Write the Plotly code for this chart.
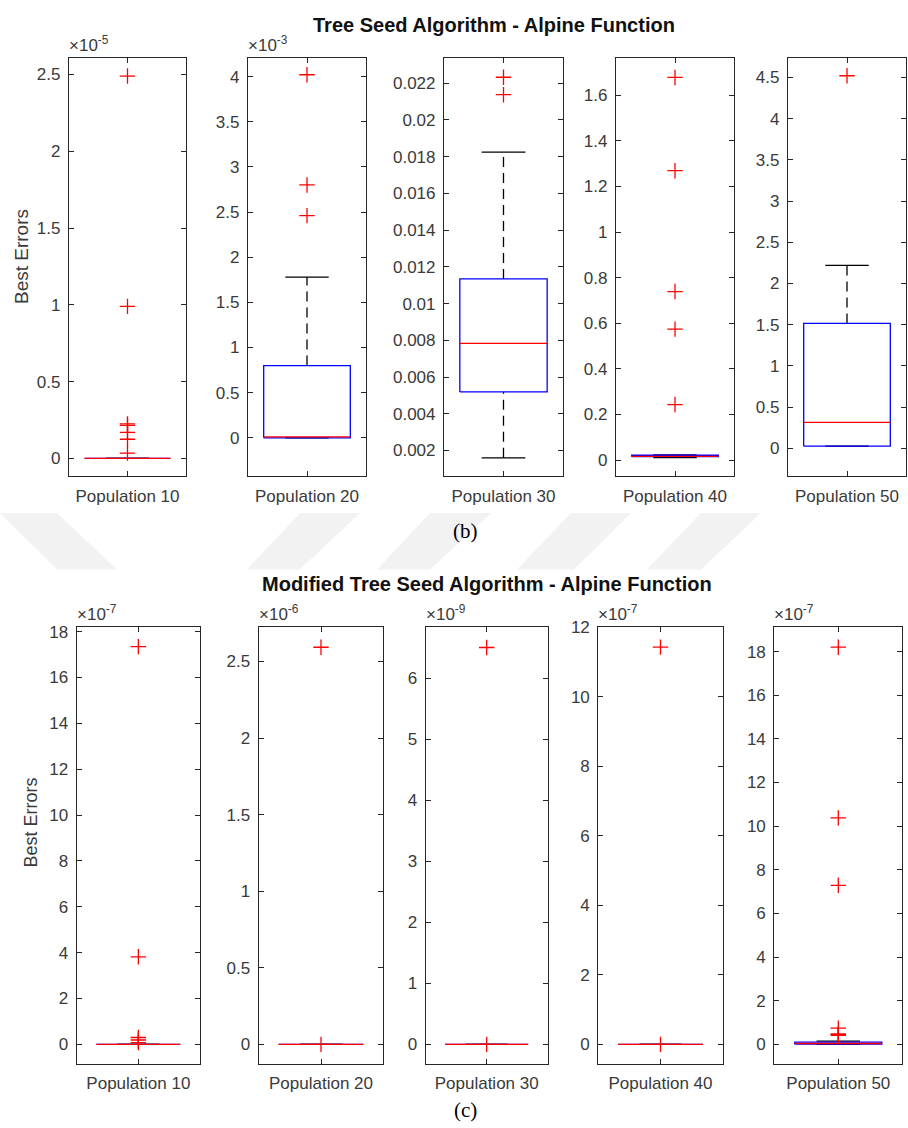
import plotly.graph_objects as go

W, H = 908, 1128

categories = ["Population 10", "Population 20", "Population 30", "Population 40", "Population 50"]

# ---- (b) Tree Seed Algorithm - Alpine Function (values in units of 10^exponent) ----
tsa_exponent = [-5, -3, 0, 0, 0]
tsa_q1 = [0.0, 0.0, 0.00519, 0.015, 0.028]
tsa_median = [0.0, 0.011, 0.00783, 0.016, 0.316]
tsa_q3 = [0.0, 0.80, 0.01134, 0.021, 1.516]
tsa_lower_whisker = [0.0, 0.0, 0.0016, 0.0105, 0.028]
tsa_upper_whisker = [0.0, 1.78, 0.01824, 0.023, 2.22]
tsa_outliers = [
    [2.49, 0.99, 0.225, 0.215, 0.17, 0.125, 0.035],
    [4.02, 2.80, 2.46],
    [0.02232, 0.02137],
    [1.678, 1.269, 0.739, 0.574, 0.2435],
    [4.52],
]

# ---- (c) Modified Tree Seed Algorithm - Alpine Function ----
mtsa_exponent = [-7, -6, -9, -7, -7]
mtsa_q1 = [0.0, 0.0, 0.0, 0.0, 0.01]
mtsa_median = [0.0, 0.0, 0.0, 0.0, 0.04]
mtsa_q3 = [0.0, 0.0, 0.0, 0.0, 0.10]
mtsa_lower_whisker = [0.0, 0.0, 0.0, 0.0, 0.0]
mtsa_upper_whisker = [0.0, 0.0, 0.0, 0.0, 0.15]
mtsa_outliers = [
    [17.35, 3.82, 0.30, 0.19, 0.08],
    [2.593, 0.0],
    [6.50, 0.0],
    [11.43, 0.0],
    [18.2, 10.38, 7.29, 0.745, 0.48, 0.45, 0.42],
]

# ---- layout helpers (pixel boxes) ----
top_boxes = [(69, 186), (248, 366), (444, 563), (616, 734), (788, 906)]
top_y = (49, 471)
top_ranges = [(-0.116, 2.61), (-0.425, 4.21), (0.0006, 0.02339), (-0.071, 1.765), (-0.337, 4.74)]
top_dtick = [0.5, 0.5, 0.002, 0.2, 0.5]

bot_boxes = [(76.7, 200), (258.7, 383.3), (425.7, 547.7), (598.3, 722.7), (774.3, 902.3)]
bot_y = (623.3, 1063.3)
bot_ranges = [(-0.848, 18.19), (-0.127, 2.723), (-0.318, 6.83), (-0.56, 12.0005), (-0.89, 19.11)]
bot_dtick = [2, 0.5, 1, 2, 2]

AX = "#262626"
TXT = "#3a3a3a"
FONT = "Liberation Sans, Arial, sans-serif"

fig = go.Figure()
annotations = []
shapes = []


def px_x(x):
    return x / W


def px_y(y):
    return 1 - y / H


def add_panel(i, xb, yb, rng, dtick, exp, q1, med, q3, lw, uw, outs, half, cap, tickfont):
    xa = "x" if i == 1 else f"x{i}"
    ya = "y" if i == 1 else f"y{i}"
    # whiskers (dashed)
    for y0, y1 in [(q3, uw), (lw, q1)]:
        fig.add_trace(go.Scatter(x=[1, 1], y=[y0, y1], mode="lines",
                                 line=dict(color="black", width=1.3, dash="10px,6px"),
                                 xaxis=xa, yaxis=ya, hoverinfo="skip", showlegend=False))
    # caps
    for yv in [uw, lw]:
        fig.add_trace(go.Scatter(x=[1 - cap, 1 + cap], y=[yv, yv], mode="lines",
                                 line=dict(color="black", width=1.3),
                                 xaxis=xa, yaxis=ya, hoverinfo="skip", showlegend=False))
    # box
    fig.add_trace(go.Scatter(x=[1 - half, 1 + half, 1 + half, 1 - half, 1 - half],
                             y=[q1, q1, q3, q3, q1], mode="lines",
                             line=dict(color="#0000ff", width=1.3),
                             xaxis=xa, yaxis=ya, hoverinfo="skip", showlegend=False))
    # median
    fig.add_trace(go.Scatter(x=[1 - half, 1 + half], y=[med, med], mode="lines",
                             line=dict(color="#ff0000", width=1.3),
                             xaxis=xa, yaxis=ya, hoverinfo="skip", showlegend=False))
    # outliers
    fig.add_trace(go.Scatter(x=[1] * len(outs), y=outs, mode="markers",
                             marker=dict(symbol="cross-thin", size=11,
                                         line=dict(color="#ff0000", width=1.3)),
                             xaxis=xa, yaxis=ya, hoverinfo="skip", showlegend=False))
    axcommon = dict(showline=True, linecolor=AX, linewidth=1.2, mirror="ticks",
                    ticks="inside", ticklen=5, tickcolor=AX, tickwidth=1,
                    showgrid=False, zeroline=False,
                    tickfont=dict(family=FONT, size=tickfont, color=TXT))
    fig.update_layout(**{
        ("xaxis" if i == 1 else f"xaxis{i}"): dict(
            domain=[px_x(xb[0]), px_x(xb[1])], range=[0.5, 1.5],
            tickvals=[1], ticktext=[categories[(i - 1) % 5]], anchor=ya,
            ticklabelstandoff=4, **axcommon),
        ("yaxis" if i == 1 else f"yaxis{i}"): dict(
            domain=[px_y(yb[1]), px_y(yb[0])], range=list(rng),
            tick0=0, dtick=dtick, anchor=xa, ticklabelstandoff=4, **axcommon),
    })
    if exp != 0:
        annotations.append(dict(
            xref="paper", yref="paper", x=px_x(xb[0] - 2), y=px_y(yb[0] - 1),
            xanchor="left", yanchor="bottom", showarrow=False,
            text=f"×10<sup>{exp}</sup>",
            font=dict(family=FONT, size=17, color=TXT)))


for k in range(5):
    add_panel(k + 1, top_boxes[k], top_y, top_ranges[k], top_dtick[k], tsa_exponent[k],
              tsa_q1[k], tsa_median[k], tsa_q3[k], tsa_lower_whisker[k], tsa_upper_whisker[k],
              tsa_outliers[k], 0.367, 0.184, 17)
for k in range(5):
    add_panel(k + 6, bot_boxes[k], bot_y, bot_ranges[k], bot_dtick[k], mtsa_exponent[k],
              mtsa_q1[k], mtsa_median[k], mtsa_q3[k], mtsa_lower_whisker[k], mtsa_upper_whisker[k],
              mtsa_outliers[k], 0.34, 0.17, 17)

# titles
annotations.append(dict(xref="paper", yref="paper", x=px_x(494), y=px_y(16),
                        xanchor="center", yanchor="middle", showarrow=False,
                        text="<b>Tree Seed Algorithm - Alpine Function</b>",
                        font=dict(family=FONT, size=20, color="#111111")))
annotations.append(dict(xref="paper", yref="paper", x=px_x(487), y=px_y(580),
                        xanchor="center", yanchor="middle", showarrow=False,
                        text="<b>Modified Tree Seed Algorithm - Alpine Function</b>",
                        font=dict(family=FONT, size=20, color="#111111")))
# y labels
annotations.append(dict(xref="paper", yref="paper", x=px_x(21), y=px_y(250),
                        xanchor="center", yanchor="middle", showarrow=False, textangle=-90,
                        text="Best Errors", font=dict(family=FONT, size=19, color=TXT)))
annotations.append(dict(xref="paper", yref="paper", x=px_x(31), y=px_y(820),
                        xanchor="center", yanchor="middle", showarrow=False, textangle=-90,
                        text="Best Errors", font=dict(family=FONT, size=18, color=TXT)))
# captions
annotations.append(dict(xref="paper", yref="paper", x=px_x(465), y=px_y(526),
                        xanchor="center", yanchor="middle", showarrow=False,
                        text="(b)", font=dict(family="Liberation Serif, Times New Roman, serif",
                                              size=21, color="black")))
annotations.append(dict(xref="paper", yref="paper", x=px_x(465), y=px_y(1110),
                        xanchor="center", yanchor="middle", showarrow=False,
                        text="(c)", font=dict(family="Liberation Serif, Times New Roman, serif",
                                              size=21, color="black")))

# faint watermark stripes in the gap between the two figures
stripes = [
    [(0, 508), (57, 508), (117, 565), (57, 565)],
    [(300, 508), (360, 508), (300, 565), (247, 565)],
    [(430, 508), (491, 508), (430, 565), (377, 565)],
    [(571, 508), (631, 508), (574, 565), (517, 565)],
    [(701, 508), (761, 508), (701, 565), (647, 565)],
]
for poly in stripes:
    path = "M " + " L ".join(f"{px_x(a):.5f},{px_y(b):.5f}" for a, b in poly) + " Z"
    shapes.append(dict(type="path", xref="paper", yref="paper", path=path,
                       fillcolor="#f2f2f2", line=dict(width=0), layer="below"))

fig.update_layout(width=W, height=H, margin=dict(l=0, r=0, t=0, b=0),
                  paper_bgcolor="white", plot_bgcolor="rgba(0,0,0,0)",
                  annotations=annotations, shapes=shapes, showlegend=False)

fig.write_html("out.html")
